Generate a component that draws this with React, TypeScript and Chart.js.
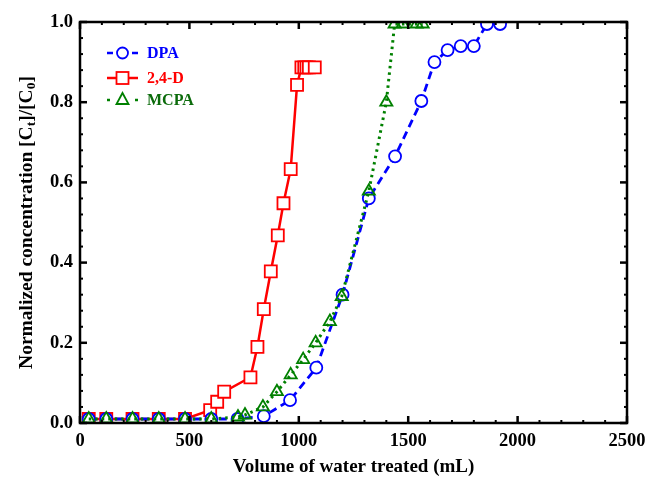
import React, { useEffect, useRef } from 'react';
import { Chart, registerables } from 'chart.js';

Chart.register(...registerables);

// ---- data ----
const dpaX = [40, 120, 240, 360, 480, 600, 720, 840, 960, 1080, 1200, 1320, 1440, 1560, 1620, 1680, 1740, 1800, 1860, 1920];
const dpaY = [0.01, 0.01, 0.01, 0.01, 0.01, 0.01, 0.01, 0.017, 0.057, 0.138, 0.32, 0.56, 0.665, 0.803, 0.9, 0.93, 0.94, 0.94, 0.995, 0.995];

const d24X = [40, 120, 240, 360, 480, 595, 627, 659, 779, 811, 840, 872, 904, 930, 963, 992, 1012, 1025, 1035, 1046, 1073];
const d24Y = [0.01, 0.01, 0.01, 0.01, 0.01, 0.032, 0.053, 0.078, 0.114, 0.19, 0.284, 0.378, 0.468, 0.548, 0.633, 0.843, 0.887, 0.887, 0.887, 0.887, 0.887];

const mcpaX = [40, 120, 240, 360, 480, 600, 722, 754, 836, 900, 963, 1020, 1077, 1142, 1196, 1320, 1400, 1438, 1475, 1539, 1566];
const mcpaY = [0.01, 0.01, 0.01, 0.01, 0.01, 0.01, 0.015, 0.02, 0.04, 0.078, 0.12, 0.158, 0.2, 0.253, 0.315, 0.578, 0.8, 0.995, 0.995, 0.995, 0.995];

const seriesNames = ['DPA', '2,4-D', 'MCPA'];
const xRange = [0, 2500];
const yRange = [0, 1];
const xMajor = 500;
const xMinor = 100;
const yMajor = 0.2;
const yMinor = 0.04;

const xTitle = 'Volume of water treated (mL)';
const yTitleParts: [string, boolean][] = [
  ['Normalized concentration [C', false],
  ['t', true],
  [']/[C', false],
  ['0', true],
  [']', false],
];

const FONT = "'Liberation Serif', 'Times New Roman', serif";
const BLUE = '#0000ff';
const RED = '#ff0000';
const GREEN = '#008000';
const GREEN_TEXT = '#0b6b0b';

const zip = (xs: number[], ys: number[]) => xs.map((x, i) => ({ x, y: ys[i] }));

const framePlugin = {
  id: 'frameTicks',
  afterDraw(chart: any) {
    const { ctx, chartArea: a, scales } = chart;
    const xs = scales.x;
    const ys = scales.y;
    ctx.save();
    ctx.strokeStyle = '#000';
    ctx.lineCap = 'butt';
    const line = (x1: number, y1: number, x2: number, y2: number) => {
      ctx.beginPath();
      ctx.moveTo(x1, y1);
      ctx.lineTo(x2, y2);
      ctx.stroke();
    };
    for (let v = xRange[0]; v <= xRange[1] + 1e-6; v += xMinor) {
      const px = xs.getPixelForValue(v);
      const major = Math.abs(v % xMajor) < 1e-6;
      const len = major ? 7 : 3;
      ctx.lineWidth = major ? 2.5 : 2;
      line(px, a.bottom, px, a.bottom - len);
      line(px, a.top, px, a.top + len);
    }
    const n = Math.round((yRange[1] - yRange[0]) / yMinor);
    for (let i = 0; i <= n; i++) {
      const v = yRange[0] + i * yMinor;
      const py = ys.getPixelForValue(v);
      const major = i % Math.round(yMajor / yMinor) === 0;
      const len = major ? 7 : 3;
      ctx.lineWidth = major ? 2.5 : 2;
      line(a.left, py, a.left + len, py);
      line(a.right, py, a.right - len, py);
    }
    ctx.lineWidth = 2.5;
    ctx.strokeRect(a.left, a.top, a.right - a.left, a.bottom - a.top);

    // y-axis title with subscripts
    const mainFont = `bold 19.5px ${FONT}`;
    const subFont = `bold 13.5px ${FONT}`;
    let total = 0;
    const widths = yTitleParts.map(([t, sub]) => {
      ctx.font = sub ? subFont : mainFont;
      const w = ctx.measureText(t).width;
      total += w;
      return w;
    });
    const cy = (a.top + a.bottom) / 2;
    ctx.translate(27, cy);
    ctx.rotate(-Math.PI / 2);
    ctx.fillStyle = '#000';
    ctx.textBaseline = 'middle';
    ctx.textAlign = 'left';
    let xo = -total / 2;
    yTitleParts.forEach(([t, sub], i) => {
      ctx.font = sub ? subFont : mainFont;
      ctx.fillText(t, xo, sub ? 5 : 0);
      xo += widths[i];
    });
    ctx.restore();

    // legend
    ctx.save();
    const lx = a.left + 27;
    const tx = a.left + 67;
    const rows = [a.top + 31, a.top + 56, a.top + 78];
    ctx.textBaseline = 'middle';
    ctx.font = `bold 16px ${FONT}`;
    // DPA
    ctx.strokeStyle = BLUE;
    ctx.lineWidth = 2.5;
    line(lx, rows[0], lx + 6, rows[0]);
    line(lx + 25, rows[0], lx + 31, rows[0]);
    ctx.beginPath();
    ctx.arc(lx + 15.5, rows[0], 5.5, 0, Math.PI * 2);
    ctx.fillStyle = '#fff';
    ctx.fill();
    ctx.lineWidth = 1.8;
    ctx.stroke();
    ctx.fillStyle = BLUE;
    ctx.fillText(seriesNames[0], tx, rows[0] + 1);
    // 2,4-D
    ctx.strokeStyle = RED;
    ctx.lineWidth = 2.5;
    line(lx, rows[1], lx + 31, rows[1]);
    ctx.fillStyle = '#fff';
    ctx.fillRect(lx + 9.5, rows[1] - 6, 12, 12);
    ctx.lineWidth = 1.8;
    ctx.strokeRect(lx + 9.5, rows[1] - 6, 12, 12);
    ctx.fillStyle = RED;
    ctx.fillText(seriesNames[1], tx, rows[1] + 1);
    // MCPA
    ctx.strokeStyle = GREEN;
    ctx.lineWidth = 2.5;
    line(lx, rows[2], lx + 3, rows[2]);
    line(lx + 28, rows[2], lx + 31, rows[2]);
    ctx.beginPath();
    ctx.moveTo(lx + 15.5, rows[2] - 7);
    ctx.lineTo(lx + 21.5, rows[2] + 4);
    ctx.lineTo(lx + 9.5, rows[2] + 4);
    ctx.closePath();
    ctx.lineWidth = 1.8;
    ctx.stroke();
    ctx.fillStyle = GREEN_TEXT;
    ctx.fillText(seriesNames[2], tx, rows[2] + 1);
    ctx.restore();
  },
};

export default function App() {
  const ref = useRef<HTMLCanvasElement | null>(null);
  useEffect(() => {
    document.body.style.margin = '0';
    const canvas = ref.current;
    if (!canvas) return;
    const tickFont = { family: FONT, size: 18.5, weight: 'bold' as const };
    const chart = new Chart(canvas, {
      type: 'line',
      data: {
        datasets: [
          {
            label: seriesNames[0],
            data: zip(dpaX, dpaY),
            borderColor: BLUE,
            backgroundColor: '#fff',
            borderWidth: 2.8,
            borderDash: [8, 5],
            pointStyle: 'circle',
            pointRadius: 6,
            pointBorderWidth: 1.8,
            pointBorderColor: BLUE,
            pointBackgroundColor: '#fff',
            tension: 0,
            order: 2,
          },
          {
            label: seriesNames[1],
            data: zip(d24X, d24Y),
            borderColor: RED,
            backgroundColor: '#fff',
            borderWidth: 2.5,
            pointStyle: 'rect',
            pointRadius: 8.5,
            pointBorderWidth: 1.8,
            pointBorderColor: RED,
            pointBackgroundColor: '#fff',
            tension: 0,
            order: 3,
          },
          {
            label: seriesNames[2],
            data: zip(mcpaX, mcpaY),
            borderColor: GREEN,
            backgroundColor: 'rgba(0,0,0,0)',
            borderWidth: 3,
            borderDash: [2.5, 4],
            pointStyle: 'triangle',
            pointRadius: 7,
            pointBorderWidth: 1.8,
            pointBorderColor: GREEN,
            pointBackgroundColor: 'rgba(255,255,255,0)',
            tension: 0,
            order: 1,
          },
        ],
      },
      options: {
        responsive: false,
        animation: false,
        devicePixelRatio: 1,
        layout: { padding: { left: 0, top: 22, right: 22, bottom: 0 } },
        plugins: {
          legend: { display: false },
          tooltip: { enabled: false },
        },
        scales: {
          x: {
            type: 'linear',
            min: xRange[0],
            max: xRange[1],
            ticks: {
              stepSize: xMajor,
              color: '#000',
              font: tickFont,
              padding: 7,
              maxRotation: 0,
              autoSkip: false,
              callback: (v: any) => String(v),
            },
            grid: { display: false, drawTicks: false },
            border: { display: false },
            title: {
              display: true,
              text: xTitle,
              color: '#000',
              font: { family: FONT, size: 19, weight: 'bold' },
              padding: { top: 0, bottom: 5 },
            },
            afterFit: (s: any) => {
              s.height = 60;
              s.paddingLeft = 0;
              s.paddingRight = 0;
            },
          },
          y: {
            type: 'linear',
            min: yRange[0],
            max: yRange[1],
            ticks: {
              stepSize: yMajor,
              color: '#000',
              font: tickFont,
              padding: 7,
              callback: (v: any) => Number(v).toFixed(1),
            },
            grid: { display: false, drawTicks: false },
            border: { display: false },
            afterFit: (s: any) => {
              s.width = 80;
              s.paddingTop = 0;
              s.paddingBottom = 0;
            },
          },
        },
      },
      plugins: [framePlugin],
    } as any);
    return () => chart.destroy();
  }, []);
  return (
    <div style={{ width: 649, height: 483 }}>
      <canvas ref={ref} width={649} height={483} style={{ display: 'block' }} />
    </div>
  );
}
